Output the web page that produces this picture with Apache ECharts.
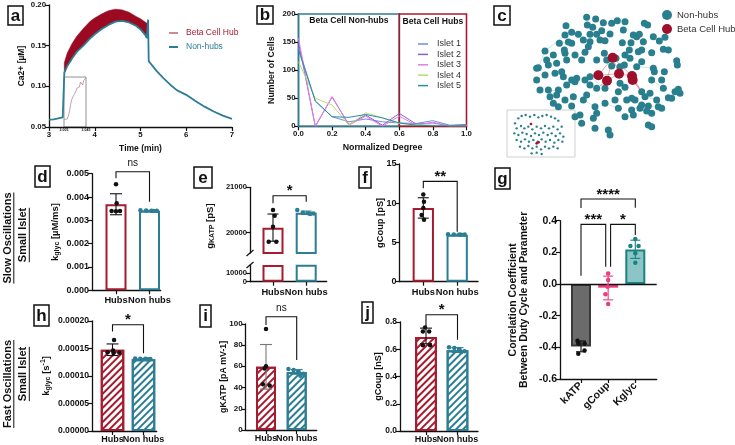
<!DOCTYPE html>
<html><head><meta charset="utf-8">
<script src="https://cdn.jsdelivr.net/npm/echarts@6/dist/echarts.min.js"></script>
<style>html,body{margin:0;padding:0;background:#fff}#c{width:735px;height:445px}</style>
</head><body><div id="c"></div>
<script>
// ================= DATA =================
// Panel a
const aTime = [3.00,3.10,3.20,3.30,3.33,3.335,3.40,3.50,3.60,3.75,3.90,4.00,4.15,4.30,4.45,4.60,4.75,4.90,5.00,5.10,5.14,5.155,5.165,5.18,5.25,5.35,5.50,5.65,5.80,6.00,6.20,6.40,6.60,6.80,7.00];
const aNonHubs = [0.0590,0.0595,0.0605,0.0618,0.0628,0.1170,0.1250,0.1340,0.1420,0.1500,0.1590,0.1640,0.1705,0.1755,0.1795,0.1805,0.1785,0.1745,0.1700,0.1635,0.1595,0.1590,0.1820,0.1310,0.1260,0.1190,0.1100,0.1020,0.0950,0.0895,0.0820,0.0750,0.0690,0.0640,0.0600];
const hubTime = [3.335,3.40,3.50,3.60,3.75,3.90,4.00,4.15,4.30,4.45,4.60,4.75,4.90,5.00,5.10,5.155];
const hubHigh = [0.129,0.141,0.152,0.161,0.171,0.180,0.184,0.189,0.193,0.1948,0.194,0.191,0.186,0.183,0.179,0.177];
const hubLow  = [0.117,0.125,0.134,0.142,0.150,0.159,0.164,0.1705,0.1755,0.1795,0.1805,0.1785,0.1745,0.170,0.1635,0.159];
const insetTime = [3.005,3.008,3.011,3.013,3.015,3.017,3.019,3.021,3.023,3.025,3.027,3.029,3.031,3.033,3.035,3.037,3.039,3.041,3.043,3.045];
const insetVal  = [0.15,0.15,0.16,0.20,0.30,0.45,0.55,0.60,0.60,0.68,0.72,0.78,0.74,0.80,0.90,0.86,0.84,0.93,0.97,0.99];
const insetTicks = [3.005, 3.045];
// Panel b
const degree = [0,0.1,0.2,0.3,0.4,0.5,0.6,0.7,0.8,0.9,1.0];
const islet1 = [140,45,17,8,13,8,6,5,10,2,3];
const islet2 = [150,0,52,3,20,2,23,4,6,1,3];
const islet3 = [157,0,53,2,18,0,18,2,7,1,1];
const islet4 = [115,50,38,2,24,15,5,3,2,1,1];
const islet5 = [136,45,17,16,21,15,6,2,1,1,1];
const isletNames = ['Islet 1','Islet 2','Islet 3','Islet 4','Islet 5'];
// Panel c (network layout, layout units)
const nonHubNodes = [[245,52],[272,57],[295,68],[320,70],[337,62],[360,65],[418,70],[428,75],[183,77],[247,75],[263,82],[180,105],[200,97],[220,103],[255,103],[275,103],[290,92],[315,102],[355,90],[385,105],[395,110],[403,103],[463,123],[480,112],[445,110],[415,125],[378,128],[352,128],[300,122],[285,120],[255,125],[235,120],[163,130],[190,126],[178,150],[120,153],[145,165],[125,180],[100,203],[130,195],[155,190],[185,180],[180,160],[210,165],[240,157],[298,160],[305,180],[360,165],[373,150],[400,155],[410,150],[440,158],[475,148],[490,150],[515,182],[517,195],[445,205],[448,215],[478,215],[410,185],[395,200],[358,195],[345,200],[320,198],[375,175],[440,240],[470,240],[520,268],[525,280],[510,275],[475,265],[490,293],[455,300],[420,290],[410,315],[405,325],[430,318],[440,340],[425,333],[380,330],[385,345],[360,350],[340,325],[330,300],[300,310],[270,320],[275,340],[265,355],[270,385],[230,370],[225,345],[210,350],[200,318],[205,290],[180,300],[155,285],[135,290],[130,270],[160,270],[185,255],[210,245],[215,235],[200,240],[240,240],[255,255],[275,265],[300,265],[340,275],[345,250],[360,262],[410,275],[380,295],[390,300],[365,300],[150,220],[120,225],[95,240],[105,270],[95,205],[170,215],[175,230],[145,310],[160,320],[310,390],[315,405],[430,375],[440,380],[435,280],[460,320],[470,325],[500,295],[255,230],[245,285],[235,300],[200,130],[250,140],[230,180],[275,180],[333,175]];
const hubNodes = [[323,173],[280,226],[306,242],[342,221],[381,228],[383,240]];
const hubLinks = [[0,1],[0,3],[0,4],[1,2],[2,3],[3,4],[4,5],[1,3],[0,2]];
const hubToNode = [[5,[410,275]],[5,[420,290]],[4,[410,275]],[1,[255,230]],[2,[275,265]]];
const faintLinks = [[[180,105],[120,153]],[[120,153],[100,203]],[[200,97],[235,120]],[[163,130],[190,126]],[[255,230],[300,265]],[[410,315],[440,340]],[[420,290],[455,300]],[[430,318],[470,325]],[[380,330],[410,315]],[[440,240],[475,265]],[[395,200],[445,205]],[[130,270],[160,270]],[[300,310],[340,325]],[[235,300],[270,320]]];
const insetNodes = [[30,370],[40,355],[50,348],[62,345],[75,350],[88,345],[100,352],[112,348],[125,345],[138,350],[150,355],[160,362],[35,385],[48,378],[58,385],[70,380],[82,388],[95,380],[108,385],[120,378],[132,385],[145,380],[158,388],[170,380],[28,400],[40,405],[52,398],[65,402],[78,408],[90,400],[102,405],[115,398],[128,405],[140,400],[152,408],[165,400],[175,410],[35,420],[48,425],[60,418],[72,425],[85,420],[98,425],[110,418],[122,425],[135,420],[148,428],[160,420],[172,425],[45,440],[58,445],[70,438],[82,445],[95,440],[108,448],[120,440],[132,445],[145,440],[158,445],[80,460],[95,458],[110,462]];
const insetHubNodes = [[78,372],[95,430],[101,427]];
// Bar panels
const groups = ['Hubs','Non hubs'];
const gCats = ['kATP','gCoup','Kglyc'];
const dMeans = [0.00369, 0.00341];
const dErr = [[0.00324,0.00414],[0.00339,0.00343]];
const dHub = [0.00455,0.00373,0.00340,0.00340,0.00339];
const dNon = [0.00343,0.00342,0.00341,0.00341,0.00340];
const eMeans = [20110, 20440];
const eErr = [[19810,20410],[20405,20475]];
const eHub = [20500,20370,20130,19800,19800];
const eNon = [20500,20440,20430,20420,20410];
const fMeans = [9.4, 5.97];
const fErr = [[8.1,10.7],[5.92,6.05]];
const fHub = [11.1,10.2,9.4,8.5,7.9];
const fNon = [6.05,6.02,6.0,6.0,5.99];
const gMeans = [-0.394,-0.023,0.218];
const gErr = [[-0.428,-0.36],[-0.10,0.05],[0.162,0.277]];
const gKatp = [-0.358,-0.375,-0.375,-0.42,-0.44];
const gCoup = [0.067,0.025,-0.017,-0.065,-0.126];
const gKglyc = [0.284,0.24,0.24,0.194,0.135];
const hMeans = [0.0001475, 0.000130];
const hErr = [[0.000137,0.000158],[0.0001293,0.0001313]];
const hHub = [0.000165,0.000146,0.000143,0.000142,0.000142];
const hNon = [0.0001315,0.000131,0.000131,0.0001305,0.00013];
const iMeans = [59.5, 54.5];
const iErr = [[38.5,80.5],[52.5,56.8]];
const iHub = [95,60,58,43,42];
const iNon = [57.5,56.5,55,53,51];
const jMeans = [0.69, 0.593];
const jErr = [[0.64,0.755],[0.577,0.612]];
const jHub = [0.76,0.73,0.73,0.63,0.63];
const jNon = [0.615,0.61,0.60,0.585,0.58];

// ================= STYLE / LAYOUT =================
const FONT = '"Liberation Sans", Arial, Helvetica, sans-serif';
const RED = '#a51b2f', TEAL = '#2b7e94', BLACK = '#111';
const CTEAL = '#2a7f8e', CRED = '#9e0f2c';

const grids = [
  {left:49, top:5, width:183, height:122},        //0 a
  {left:64, top:77, width:22, height:50, show:true, borderColor:'#777', borderWidth:0.8}, //1 a inset
  {left:298.5, top:14, width:168, height:112.3},   //2 b
  {left:505, top:0, width:230, height:190},        //3 c
  {left:92, top:173.7, width:68.7, height:116.6},  //4 d
  {left:250, top:187.3, width:76.7, height:65.7},  //5 e upper
  {left:250, top:265, width:76.7, height:16.7},    //6 e lower
  {left:399.5, top:164, width:78.5, height:117.7}, //7 f
  {left:560, top:220.7, width:96.7, height:158.3}, //8 g
  {left:92, top:320.8, width:64.7, height:110.2},  //9 h
  {left:245.7, top:323.8, width:71, height:106.2}, //10 i
  {left:400, top:322, width:78, height:109}        //11 j
].map(g => Object.assign({containLabel:false, outerBoundsMode:'none'}, g));

function ax(gi, o) {
  const fs = o.fs || 9;
  const a = {
    gridIndex: gi, type: 'value', min: o.min, max: o.max, nameMoveOverlap:false,
    axisLine: {show: o.line !== false, onZero: false, lineStyle: {color: BLACK, width: 1.3}},
    axisTick: {show: o.tick !== false, length: 4, lineStyle: {color: BLACK, width: 1.2}},
    axisLabel: {show: o.label !== false, color: BLACK, fontFamily: FONT, fontWeight: 'bold', fontSize: fs,
      margin: o.margin == null ? 3 : o.margin, showMinLabel:true, showMaxLabel:true, hideOverlap:false},
    splitLine: {show: false}
  };
  if (o.position) a.position = o.position;
  if (o.interval != null) a.interval = o.interval;
  if (o.fmt) a.axisLabel.formatter = o.fmt;
  if (o.custom) { a.axisLabel.customValues = o.custom; a.axisTick.customValues = o.custom; }
  if (o.labelValues) a.axisLabel.customValues = o.labelValues;
  if (o.rotate) a.axisLabel.rotate = o.rotate;
  if (o.inverse) a.inverse = true;
  if (o.show === false) a.show = false;
  if (o.name) {
    a.name = o.name; a.nameLocation = 'middle'; a.nameGap = o.gap;
    a.nameTextStyle = Object.assign({color: BLACK, fontFamily: FONT, fontWeight: 'bold', fontSize: o.nfs || 9.5}, o.nts || {});
  }
  return a;
}
const xAxes = [], yAxes = [], extraX = [], extraY = [];
// Category-like value axis; each extra label gets its own overlay axis so no label is auto-hidden
function catX(gi, grid, centers, names, o) {
  const n = centers.length;
  const s = (centers[n-1] - centers[0]) / (n - 1);
  const pos = names.map((_, k) => k + 1);
  const min = 1 - (centers[0] - grid.left) / s;
  const max = n + (grid.left + grid.width - centers[n-1]) / s;
  const base = Object.assign({min, max, custom: pos, position:'bottom', fmt: v => names[Math.round(v) - 1] || '', fs: 9.3, margin: 6}, o || {});
  if (base.split && base.show !== false) {
    for (let k = 1; k < n; k++) {
      extraX.push(ax(gi, Object.assign({}, base, {line:false, tick:false, custom:null, labelValues:[k+1], position:'bottom'})));
      extraY.push(ax(gi, {min:0, max:1, show:false, position:'right'}));
    }
    base.labelValues = [1];
  }
  return ax(gi, base);
}

const subRich = {
  n: {fontFamily: FONT, fontWeight: 'bold', fontSize: 9.5, color: BLACK, lineHeight: 12},
  s: {fontFamily: FONT, fontWeight: 'bold', fontSize: 7, color: BLACK, lineHeight: 12, verticalAlign: 'bottom', padding: [3,0,0,0]},
  p: {fontFamily: FONT, fontWeight: 'bold', fontSize: 7, color: BLACK, lineHeight: 12, verticalAlign: 'top'}
};

// a
xAxes.push(ax(0, {min:3, max:7, interval:1, fs:7.8, margin:4, position:'bottom', name:'Time (min)', gap:17, nfs:8.5}));
yAxes.push(ax(0, {min:0.05, max:0.2, interval:0.05, fs:7.8, position:'left', fmt:v=>v.toFixed(2), name:'Ca2+ [µM]', gap:23, nfs:8.5}));
// a inset
xAxes.push(ax(1, {min:3.005, max:3.045, line:false, tick:false, position:'bottom', custom:insetTicks, fmt:v=>v.toFixed(3), fs:3.5, margin:1}));
yAxes.push(ax(1, {min:0, max:1, show:false}));
// b
xAxes.push(ax(2, {min:0, max:1, interval:0.2, fs:7.8, margin:4, position:'bottom', fmt:v=>v.toFixed(1), name:'Normalized Degree', gap:17, nfs:8.8}));
yAxes.push(ax(2, {min:0, max:200, interval:50, fs:7.8, position:'left', name:'Number of Cells', gap:22, nfs:8.8}));
// c
xAxes.push(ax(3, {min:0, max:690, show:false}));
yAxes.push(ax(3, {min:0, max:570, inverse:true, show:false}));
// d
xAxes.push(catX(4, grids[4], [116,149.5], groups, {split:true}));
yAxes.push(ax(4, {min:0, max:0.005, interval:0.001, fs:9, position:'left', fmt:v=>v.toFixed(3), name:'{n|k}{s|glyc}{n| [µM/ms]}', gap:31, nts:{rich:subRich}}));
// e upper/lower
xAxes.push(catX(5, grids[5], [273,306.2], groups, {show:false}));
yAxes.push(ax(5, {min:19550, max:21000, custom:[20000,21000], fs:7.6, position:'left', fmt:v=>String(v), name:'{n|g}{s|KATP}{n| [pS]}', gap:34, nts:{rich:subRich, padding:[0,0,0,-12]}}));
xAxes.push(catX(6, grids[6], [273,306.2], groups, {split:true}));
yAxes.push(ax(6, {min:0, max:20000, custom:[0,10000], fs:7.6, position:'left', fmt:v=>String(v)}));
// f
xAxes.push(catX(7, grids[7], [423.3,457.2], groups, {split:true}));
yAxes.push(ax(7, {min:0, max:15, interval:5, fs:9, position:'left', name:'gCoup [pS]', gap:15, nfs:9.3}));
// g
xAxes.push(catX(8, grids[8], [581,608.3,635.3], gCats, {rotate:45, fs:10.5, margin:5}));
yAxes.push(ax(8, {min:-0.6, max:0.4, interval:0.2, fs:10.5, position:'left', fmt:v=>(Math.abs(v)<1e-9?0:v).toFixed(1), name:'Correlation Coefficient\nBetween Duty Cycle and Parameter', gap:30, nfs:10.5, nts:{lineHeight:11}}));
// h
xAxes.push(catX(9, grids[9], [112.5,143.5], groups, {margin:4, fs:9, split:true}));
yAxes.push(ax(9, {min:0, max:0.0002, interval:0.00005, fs:8.6, position:'left', fmt:v=>v.toFixed(5), name:'{n|k}{s|glyc}{n| [s}{p|-1}{n|]}', gap:40, nts:{rich:subRich}}));
// i
xAxes.push(catX(10, grids[10], [266,296.7], groups, {margin:4, fs:9, split:true}));
yAxes.push(ax(10, {min:0, max:100, interval:20, fs:8, position:'left', name:'gKATP [pA mV-1]', gap:18, nfs:8.8}));
// j
xAxes.push(catX(11, grids[11], [426,457.5], groups, {margin:4, fs:9, split:true}));
yAxes.push(ax(11, {min:0, max:0.8, interval:0.2, fs:8.4, position:'left', fmt:v=>v.toFixed(1), name:'gCoup [nS]', gap:17, nfs:9}));

// ================= SERIES =================
const series = [];
// a: hub band
series.push({type:'custom', name:'Beta Cell Hub', xAxisIndex:0, yAxisIndex:0, z:2, silent:true, data:[[5,0.15]],
  renderItem:(p, api) => {
    const pts = [];
    for (let k = 0; k < hubTime.length; k++) pts.push(api.coord([hubTime[k], hubHigh[k]]));
    for (let k = hubTime.length - 1; k >= 0; k--) pts.push(api.coord([hubTime[k], hubLow[k]]));
    return {type:'polygon', shape:{points:pts}, style:{fill:'#9b0a20', stroke:'#9b0a20', lineWidth:0.6}};
  }});
series.push({type:'line', name:'Non-hubs', xAxisIndex:0, yAxisIndex:0, z:3, showSymbol:false, symbol:'none',
  data: aTime.map((t,k)=>[t, aNonHubs[k]]), lineStyle:{color:TEAL, width:1.8}, itemStyle:{color:TEAL}});
series.push({type:'line', name:'inset', xAxisIndex:1, yAxisIndex:1, z:4, symbol:'none',
  data: insetTime.map((t,k)=>[t, insetVal[k]]), lineStyle:{color:'#b98a93', width:0.8}});
// b
const isletColors = ['#6d8fd8','#8d5fd0','#e47de6','#b6de6e','#2a8ca8'];
[islet1, islet2, islet3, islet4, islet5].forEach((arr, k) => {
  const s = {type:'line', name:isletNames[k], xAxisIndex:2, yAxisIndex:2, symbol:'none', z:3+k,
    data: degree.map((d,m)=>[d, arr[m]]), lineStyle:{color:isletColors[k], width:1}, itemStyle:{color:isletColors[k]}};
  if (k === 4) {
    s.markArea = {silent:true, data:[
      [{xAxis:0, yAxis:0, name:'Beta Cell Non-hubs', itemStyle:{color:'rgba(0,0,0,0)', borderColor:TEAL, borderWidth:1.6},
        label:{show:true, position:'insideTop', distance:3, color:BLACK, fontFamily:FONT, fontWeight:'bold', fontSize:8.6}}, {xAxis:0.6, yAxis:200}],
      [{xAxis:0.6, yAxis:0, name:'Beta Cell Hubs', itemStyle:{color:'rgba(0,0,0,0)', borderColor:RED, borderWidth:1.6},
        label:{show:true, position:'insideTop', distance:4, color:BLACK, fontFamily:FONT, fontWeight:'bold', fontSize:8.6}}, {xAxis:1, yAxis:200}]
    ]};
  }
  series.push(s);
});
// c
series.push({type:'lines', coordinateSystem:'cartesian2d', xAxisIndex:3, yAxisIndex:3, silent:true, z:1,
  data: faintLinks.map(l=>({coords:l})), lineStyle:{color:'#9cc7cc', width:0.7, opacity:0.7}});
series.push({type:'lines', coordinateSystem:'cartesian2d', xAxisIndex:3, yAxisIndex:3, silent:true, z:2,
  data: hubLinks.map(l=>({coords:[hubNodes[l[0]], hubNodes[l[1]]]})).concat(hubToNode.map(l=>({coords:[hubNodes[l[0]], l[1]]}))),
  lineStyle:{color:'#d98c98', width:0.8, opacity:0.9}});
series.push({type:'scatter', name:'cNon', xAxisIndex:3, yAxisIndex:3, z:3, symbolSize:7, data:nonHubNodes, itemStyle:{color:CTEAL, opacity:1}});
series.push({type:'scatter', name:'cHub', xAxisIndex:3, yAxisIndex:3, z:4, symbolSize:10, data:hubNodes, itemStyle:{color:CRED, opacity:1}});
series.push({type:'scatter', name:'cInset', xAxisIndex:3, yAxisIndex:3, z:3, symbolSize:2.4, data:insetNodes, itemStyle:{color:CTEAL, opacity:1}});
series.push({type:'scatter', name:'cInsetHub', xAxisIndex:3, yAxisIndex:3, z:4, symbolSize:2.6, data:insetHubNodes, itemStyle:{color:CRED, opacity:1}});

// bar panels
function errSeries(ai, x, lo, hi, color, capW) {
  return {type:'custom', xAxisIndex:ai, yAxisIndex:ai, z:5, silent:true, data:[[x, lo, hi]],
    renderItem:(p, api) => {
      const a = api.coord([api.value(0), api.value(1)]), b = api.coord([api.value(0), api.value(2)]), h = capW/2;
      const st = {stroke:color, lineWidth:1.1};
      return {type:'group', children:[
        {type:'line', shape:{x1:a[0],y1:a[1],x2:b[0],y2:b[1]}, style:st},
        {type:'line', shape:{x1:a[0]-h,y1:a[1],x2:a[0]+h,y2:a[1]}, style:st},
        {type:'line', shape:{x1:b[0]-h,y1:b[1],x2:b[0]+h,y2:b[1]}, style:st}]};
    }};
}
function bracketSeries(ai, br) {
  return {type:'custom', xAxisIndex:ai, yAxisIndex:ai, z:6, silent:true, data:[[br[0], br[1], br[2], br[3], br[4]]],
    renderItem:(p, api) => {
      const L = api.coord([api.value(0), api.value(3)]), TL = api.coord([api.value(0), api.value(2)]);
      const TR = api.coord([api.value(1), api.value(2)]), R = api.coord([api.value(1), api.value(4)]);
      const ns = br[5] === 'ns';
      return {type:'group', children:[
        {type:'polyline', shape:{points:[L, TL, TR, R]}, style:{stroke:BLACK, lineWidth:1.1, fill:'none'}},
        {type:'text', x:(TL[0]+TR[0])/2, y:TL[1] - (ns ? 8.5 : 4.5),
          style:{text:br[5], font:(ns ? 'normal 10px ' : 'bold 15px ') + FONT, fill:BLACK, align:'center', verticalAlign:'middle', textAlign:'center', textVerticalAlign:'middle'}}]};
    }};
}
function hatch(color) {
  return {symbol:'rect', symbolSize:1, dashArrayX:[1,0], dashArrayY:[1.4,2.8], rotation:-Math.PI/4, color:color};
}
function barPanel(cfg) {
  const n = cfg.means.length;
  cfg.barAxes.forEach((ai, idx) => {
    const s = {type:'bar', xAxisIndex:ai, yAxisIndex:ai, z:2, barWidth:cfg.barW, silent:true,
      data: cfg.means.map((m,k)=>{
        const it = {color:cfg.fills[k], borderColor:cfg.borders[k], borderWidth:2};
        if (cfg.hatch) { it.decal = hatch(cfg.borders[k]); }
        return {value:[k+1, m], itemStyle:it};
      })};
    if (cfg.zeroLine) s.markLine = {silent:true, symbol:'none', label:{show:false}, data:[{yAxis:0}], lineStyle:{color:BLACK, width:1.3, type:'solid'}};
    series.push(s);
  });
  const ai = cfg.barAxes[0];
  for (let k = 0; k < n; k++) {
    series.push(errSeries(ai, k+1, cfg.errs[k][0], cfg.errs[k][1], cfg.errColors[k], cfg.capW));
    series.push({type:'scatter', xAxisIndex:ai, yAxisIndex:ai, z:6, silent:true, symbolSize:cfg.dot || 4.5,
      data: cfg.pts[k].map((v,m)=>[k+1+cfg.jit[k][m], v]), itemStyle:{color:cfg.dotColors[k], opacity:1}});
  }
  cfg.brackets.forEach(br => series.push(bracketSeries(ai, br)));
}
const HUBN = [RED, TEAL];
const ROW = [-0.27,-0.1,0.06,0.22,0.12];
barPanel({barAxes:[4], means:dMeans, errs:dErr, pts:[dHub,dNon], jit:[[0,0.02,-0.13,0.12,0],ROW],
  fills:['#fff','#fff'], borders:HUBN, errColors:[BLACK,TEAL], dotColors:[BLACK,TEAL], barW:21, capW:12,
  brackets:[[1,2,0.005086,0.004803,0.003799,'ns']]});
barPanel({barAxes:[5,6], means:eMeans, errs:eErr, pts:[eHub,eNon], jit:[[0,0.05,0,-0.13,0.1],ROW],
  fills:['#fff','#fff'], borders:HUBN, errColors:[BLACK,TEAL], dotColors:[BLACK,TEAL], barW:21, capW:11,
  brackets:[[1,2,20815,20650,20680,'*']]});
barPanel({barAxes:[7], means:fMeans, errs:fErr, pts:[fHub,fNon], jit:[[0,0.02,0,-0.05,0.02],ROW],
  fills:['#fff','#fff'], borders:HUBN, errColors:[BLACK,TEAL], dotColors:[BLACK,TEAL], barW:21.3, capW:11,
  brackets:[[1,2,12.78,11.9,6.35,'**']]});
barPanel({barAxes:[8], means:gMeans, errs:gErr, pts:[gKatp,gCoup,gKglyc],
  jit:[[-0.13,0.13,-0.1,0.13,-0.1],[0,0,-0.02,-0.1,0],[0,-0.18,0.12,0,0]],
  fills:['#6b6b6b','#f8bcd3','#8cc5c5'], borders:['#3a3a3a','#ec3a7f','#1b8282'],
  errColors:['#111','#ec3a7f','#1b8282'], dotColors:['#111','#ec3a7f','#1b8282'], barW:20, capW:10, zeroLine:true,
  brackets:[[1,3,0.537,0.48,0.482,'****'],[1,1.91,0.377,0.052,0.109,'***'],[2.09,3,0.377,0.109,0.31,'*']]});
barPanel({barAxes:[9], means:hMeans, errs:hErr, pts:[hHub,hNon], jit:[[0.05,0.02,-0.16,0.22,0.03],ROW],
  fills:['#fff','#fff'], borders:HUBN, errColors:[BLACK,TEAL], dotColors:[BLACK,TEAL], barW:23.5, capW:12, hatch:true,
  brackets:[[1,2,0.0001927,0.0001805,0.0001413,'*']]});
barPanel({barAxes:[10], means:iMeans, errs:iErr, pts:[iHub,iNon], jit:[[0,0,-0.05,-0.1,0.12],ROW],
  fills:['#fff','#fff'], borders:HUBN, errColors:['#777',TEAL], dotColors:[BLACK,TEAL], barW:20, capW:12, hatch:true,
  brackets:[[1,2,106.6,98.8,65.9,'ns']]});
barPanel({barAxes:[11], means:jMeans, errs:jErr, pts:[jHub,jNon], jit:[[-0.03,0.1,-0.1,-0.1,0.13],ROW],
  fills:['#fff','#fff'], borders:HUBN, errColors:[BLACK,TEAL], dotColors:[BLACK,TEAL], barW:21.7, capW:12, hatch:true,
  brackets:[[1,2,0.853,0.757,0.669,'*']]});

// ================= GRAPHIC =================
const graphic = [];
function letterBox(ch, x, y, w, h) {
  graphic.push({type:'rect', z:100, shape:{x, y, width:w, height:h}, style:{fill:'#fff', stroke:BLACK, lineWidth:1.5}});
  graphic.push({type:'text', z:101, x:x+w/2, y:y+h/2+0.5, style:{text:ch, font:'bold 17px ' + FONT, fill:BLACK, align:'center', verticalAlign:'middle'}});
}
letterBox('a', 8, 6, 15, 19);
letterBox('b', 257, 6, 16, 18);
letterBox('c', 494, 6, 16, 19);
letterBox('d', 35, 166, 15, 21);
letterBox('e', 194, 167, 18, 21);
letterBox('f', 359, 167, 12, 21);
letterBox('g', 495, 168, 15, 21);
letterBox('h', 34, 305, 15, 21);
letterBox('i', 200, 305, 11, 22);
letterBox('j', 362, 302, 11, 21);

const mctx = document.createElement('canvas').getContext('2d');
function rowLabel(text, cx, cy) {
  const font = 'bold 11px ' + FONT;
  mctx.font = font;
  const w = mctx.measureText(text).width;
  graphic.push({type:'text', z:100, x:cx, y:cy, rotation:Math.PI/2, style:{text, font, fill:BLACK, align:'center', verticalAlign:'middle'}});
  graphic.push({type:'line', z:100, shape:{x1:cx+6.3, y1:cy-w/2, x2:cx+6.3, y2:cy+w/2}, style:{stroke:BLACK, lineWidth:1}});
}
rowLabel('Slow Oscillations', 7.5, 238);
rowLabel('Small Islet', 23, 235);
rowLabel('Fast Oscillations', 7.5, 384);
rowLabel('Small Islet', 23, 374);
// axis break marks in e
graphic.push({type:'line', z:100, shape:{x1:246.5, y1:256, x2:253.5, y2:250}, style:{stroke:BLACK, lineWidth:1.2}});
graphic.push({type:'line', z:100, shape:{x1:246.5, y1:268, x2:253.5, y2:262}, style:{stroke:BLACK, lineWidth:1.2}});
// inset frame in c
graphic.push({type:'rect', z:0, shape:{x:507, y:110, width:68, height:47}, style:{fill:'none', stroke:'#cfcfcf', lineWidth:1}});

// ================= OPTION =================
const chart = echarts.init(document.getElementById('c'), null, {renderer:'canvas', width:735, height:445});
chart.setOption({
  animation:false,
  backgroundColor:'#fff',
  textStyle:{fontFamily:FONT},
  grid: grids,
  xAxis: xAxes.concat(extraX),
  yAxis: yAxes.concat(extraY),
  legend: [
    {data:[{name:'Beta Cell Hub', icon:'rect', itemStyle:{color:'#c98b95'}, textStyle:{color:RED}},
           {name:'Non-hubs', icon:'rect', itemStyle:{color:TEAL}, textStyle:{color:TEAL}}],
     orient:'vertical', left:169, top:28, padding:0, itemWidth:9, itemHeight:2, itemGap:4, selectedMode:false,
     textStyle:{fontFamily:FONT, fontSize:8.5, lineHeight:10, padding:[0,0,0,3]}},
    {data:isletNames.map((nm,k)=>({name:nm, icon:'rect', itemStyle:{color:isletColors[k]}})),
     orient:'vertical', left:418, top:38.8, padding:0, itemWidth:10, itemHeight:1.5, itemGap:0, selectedMode:false,
     textStyle:{fontFamily:FONT, fontSize:9, color:'#333', lineHeight:10.4, padding:[0,0,0,4]}},
    {data:['cNon','cHub'], formatter:n => n === 'cNon' ? 'Non-hubs' : 'Beta Cell Hubs',
     orient:'vertical', left:662, top:10, padding:0, icon:'circle', itemWidth:10, itemHeight:10, itemGap:4, selectedMode:false,
     textStyle:{fontFamily:FONT, fontSize:9.5, color:'#333'}}
  ],
  series: series,
  graphic: graphic
});
</script>
</body></html>
